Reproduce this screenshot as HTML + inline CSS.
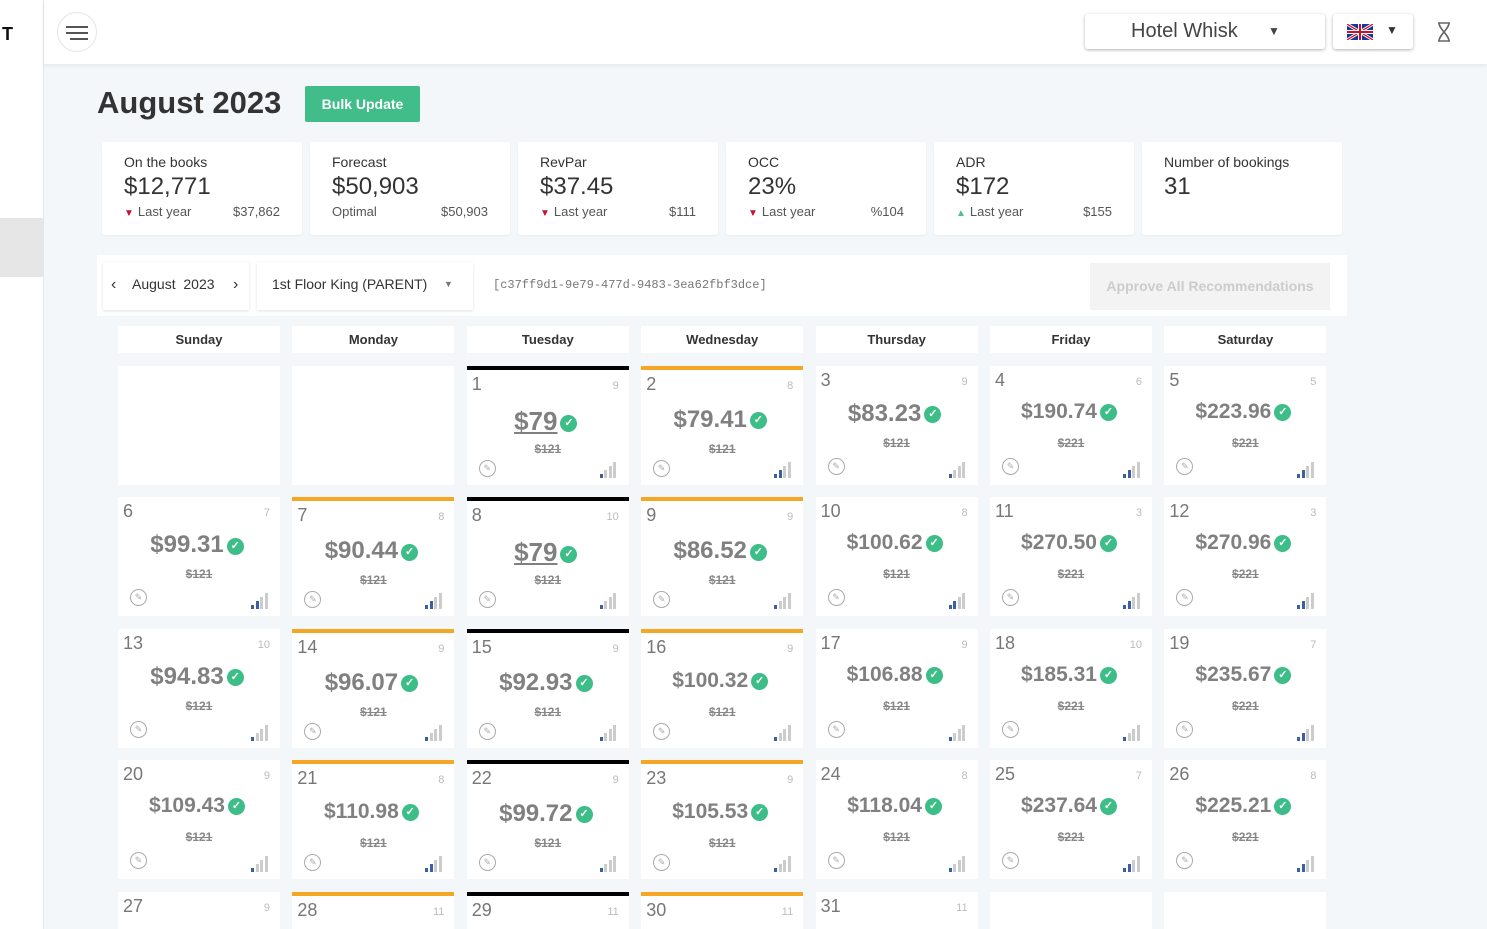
<!DOCTYPE html>
<html><head><meta charset="utf-8">
<style>
*{box-sizing:border-box;margin:0;padding:0}
html,body{width:1487px;height:929px;overflow:hidden}
body{background:#f4f7fa;font-family:"Liberation Sans",sans-serif;color:#333}
#wrap{position:relative;width:1487px;height:929px;overflow:hidden}
.abs{position:absolute}
#side{left:0;top:0;width:44px;height:929px;background:#fff;border-right:1px solid #e3e6ea}
#hdr{left:44px;top:0;width:1443px;height:64px;background:#fff;box-shadow:0 2px 4px rgba(0,0,0,.06)}
.card{position:absolute;top:142px;width:200px;height:93px;background:#fff;border-radius:3px;box-shadow:0 1px 2px rgba(0,0,0,.05)}
.card .t{position:absolute;left:22px;top:12px;font-size:14px;color:#333}
.card .v{position:absolute;left:22px;top:31px;font-size:24px;color:#333}
.card .l{position:absolute;left:22px;top:62px;font-size:13px;color:#555}
.card .r{position:absolute;right:22px;top:62px;font-size:13px;color:#555}
.dn{color:#c8102e;font-size:10px;margin-right:4px}
.up{color:#4bbf8c;font-size:10px;margin-right:4px}
.dh{position:absolute;top:326px;width:162px;height:27px;background:#fff;font-size:13px;font-weight:bold;text-align:center;line-height:27px;color:#333}
.cell{position:absolute;width:162px;height:119px;background:#fff;overflow:hidden}
.cell .n{position:absolute;left:5px;top:4px;font-size:18px;color:#777}
.cell .a{position:absolute;right:10px;top:10px;font-size:11px;color:#bbb}
.cell .p{position:absolute;left:-4px;right:0;top:34px;text-align:center;font-weight:bold;color:#808080;white-space:nowrap}
.cell .o{position:absolute;left:0;right:0;top:74px;text-align:center;font-size:12px;font-weight:bold;color:#888;text-decoration:line-through}
.chk{display:inline-block;width:17px;height:17px;border-radius:50%;background:#3dbd87;color:#fff;font-size:11px;line-height:17px;text-align:center;vertical-align:middle;margin-left:3px}
.ed{position:absolute;left:12px;top:94px;width:17px;height:17px;border:1px solid #aaa;border-radius:50%;font-size:9px;color:#aaa;text-align:center;line-height:15px}
.sig{position:absolute;right:12px;top:96px;width:17px;height:16px}
.sig i{position:absolute;bottom:0;width:3px;background:#ccc}
</style></head><body>
<div id="wrap">
<div id="side" class="abs">
<div class="abs" style="left:2px;top:24px;font-weight:bold;font-size:18px;color:#111">T</div>
<div class="abs" style="left:0;top:218px;width:43px;height:59px;background:#e6e6e6"></div>
</div>
<div id="hdr" class="abs">
<div class="abs" style="left:13px;top:12px;width:40px;height:40px;border-radius:50%;border:1px solid #e5e5e5">
<div class="abs" style="left:8px;top:13px;width:22px;height:2px;background:#555"></div>
<div class="abs" style="left:8px;top:19px;width:22px;height:2px;background:#555"></div>
<div class="abs" style="left:12px;top:25px;width:18px;height:2px;background:#555"></div></div>
<div class="abs" style="left:1041px;top:14px;width:240px;height:35px;background:#fff;border-radius:3px;box-shadow:0 1px 3px rgba(0,0,0,.3);font-size:20px;color:#444;line-height:35px;padding-left:46px">Hotel Whisk<span style="position:absolute;left:183px;top:0;font-size:12px">▼</span></div>
<div class="abs" style="left:1289px;top:14px;width:80px;height:35px;background:#fff;border-radius:3px;box-shadow:0 1px 3px rgba(0,0,0,.3)">
<svg class="abs" style="left:14px;top:10px" width="26" height="16" viewBox="0 0 26 16"><rect width="26" height="16" fill="#1a3a8c"/><path d="M0 0L26 16M26 0L0 16" stroke="#fff" stroke-width="3"/><path d="M0 0L26 16M26 0L0 16" stroke="#c8102e" stroke-width="1.2"/><rect x="0" y="6" width="26" height="4" fill="#fff"/><rect x="11" y="0" width="4" height="16" fill="#fff"/><rect x="0" y="7" width="26" height="2" fill="#c8102e"/><rect x="12" y="0" width="2" height="16" fill="#c8102e"/></svg>
<span class="abs" style="left:53px;top:9px;font-size:12px;color:#333">▼</span></div>
<svg class="abs" style="left:1393px;top:22px" width="14" height="20" viewBox="0 0 14 20"><path d="M1 1H13M1 19H13M2 1C2 7 12 13 12 19M12 1C12 7 2 13 2 19" stroke="#666" stroke-width="1.6" fill="none"/></svg>
</div>
<div class="abs" style="left:97px;top:85px;font-size:31px;font-weight:bold;color:#333">August 2023</div>
<div class="abs" style="left:305px;top:86px;width:115px;height:36px;background:#41bd89;border-radius:2px;color:#fff;font-weight:bold;font-size:14px;text-align:center;line-height:36px">Bulk Update</div>

<div class="card" style="left:102px"><div class="t">On the books</div><div class="v">$12,771</div><div class="l"><span class="dn">▼</span>Last year</div><div class="r">$37,862</div></div>
<div class="card" style="left:310px"><div class="t">Forecast</div><div class="v">$50,903</div><div class="l">Optimal</div><div class="r">$50,903</div></div>
<div class="card" style="left:518px"><div class="t">RevPar</div><div class="v">$37.45</div><div class="l"><span class="dn">▼</span>Last year</div><div class="r">$111</div></div>
<div class="card" style="left:726px"><div class="t">OCC</div><div class="v">23%</div><div class="l"><span class="dn">▼</span>Last year</div><div class="r">%104</div></div>
<div class="card" style="left:934px"><div class="t">ADR</div><div class="v">$172</div><div class="l"><span class="up">▲</span>Last year</div><div class="r">$155</div></div>
<div class="card" style="left:1142px"><div class="t">Number of bookings</div><div class="v">31</div></div>

<div class="abs" style="left:97px;top:255px;width:1250px;height:61px;background:#fff">
<div class="abs" style="left:6px;top:7px;width:146px;height:48px;background:#fff;box-shadow:0 1px 3px rgba(0,0,0,.12);font-size:14px;line-height:45px;color:#333"><span style="position:absolute;left:8px;font-size:16px">‹</span><span style="position:absolute;left:29px">August&nbsp; 2023</span><span style="position:absolute;left:130px;font-size:16px">›</span></div>
<div class="abs" style="left:160px;top:7px;width:216px;height:48px;background:#fff;box-shadow:0 1px 3px rgba(0,0,0,.12);font-size:14px;line-height:45px;color:#333;padding-left:15px">1st Floor King (PARENT)<span style="position:absolute;left:187px;font-size:9px;color:#777">▼</span></div>
<div class="abs" style="left:396px;top:23px;font-family:'Liberation Mono',monospace;font-size:12px;color:#777">[c37ff9d1-9e79-477d-9483-3ea62fbf3dce]</div>
<div class="abs" style="left:993px;top:8px;width:240px;height:47px;background:#f3f3f3;color:#ccc;font-weight:bold;font-size:14px;text-align:center;line-height:47px">Approve All Recommendations</div>
</div>
</div>
<script>
const dayNames=["Sunday","Monday","Tuesday","Wednesday","Thursday","Friday","Saturday"];
const avail=[9,8,9,6,5,7,8,10,9,8,3,3,10,9,9,9,9,10,7,9,8,9,9,8,7,8,9,11,11,11,11];
const prices=["$79","$79.41","$83.23","$190.74","$223.96","$99.31","$90.44","$79","$86.52","$100.62","$270.50","$270.96","$94.83","$96.07","$92.93","$100.32","$106.88","$185.31","$235.67","$109.43","$110.98","$99.72","$105.53","$118.04","$237.64","$225.21","","","","",""];
const oldPrices=["$121","$121","$121","$221","$221","$121","$121","$121","$121","$121","$221","$221","$121","$121","$121","$121","$121","$221","$221","$121","$121","$121","$121","$121","$221","$221","","","","",""];
const blueBars=[1,2,1,2,2,2,2,1,1,2,2,2,1,1,1,1,1,1,2,1,2,1,1,1,2,2,1,1,1,1,1];
const borderColor=[null,"#f5a623","#000","#f5a623",null,null,null];
const firstDay=2;
const wrap=document.getElementById('wrap');
const colX=i=>118+i*174.4, rowY=r=>366+r*131.4;
dayNames.forEach((d,i)=>{const h=document.createElement('div');h.className='dh';h.style.left=colX(i)+'px';h.textContent=d;

wrap.appendChild(h);});
for(let k=0;k<35;k++){
 const c=k%7,r=Math.floor(k/7),day=k-firstDay+1;
 const el=document.createElement('div');el.className='cell';
 const top=rowY(r);
 el.style.left=colX(c)+'px';el.style.top=top+'px';
 el.style.height=Math.min(119,929-top)+'px';
 
 
 if(day>=1&&day<=31){
  const bc=borderColor[c];
  if(bc)el.style.borderTop='4px solid '+bc;
  const p=prices[day-1];
  const fs=p.length<=3?26:(p.length<=6?24:21);
  const u=p.length<=3?'text-decoration:underline;':'';
  let html=`<div class="n">${day}</div><div class="a">${avail[day-1]}</div>`;
  if(p){html+=`<div class="p" style="font-size:${fs}px;top:${(bc?36:34)}px"><span style="${u}">${p}</span><span class="chk">✓</span></div><div class="o" style="top:${bc?72:70}px">${oldPrices[day-1]}</div><div class="ed" style="top:${bc?90:92}px">✎</div>`;
   let s='<div class="sig" style="top:'+(bc?92:96)+'px">';for(let b=0;b<4;b++){s+=`<i style="left:${b*4.5}px;height:${4+b*4}px;${b<blueBars[day-1]?'background:#3b5fa0':''}"></i>`;}html+=s+'</div>';}
  el.innerHTML=html;
 }
 wrap.appendChild(el);
}
</script>
</body></html>
